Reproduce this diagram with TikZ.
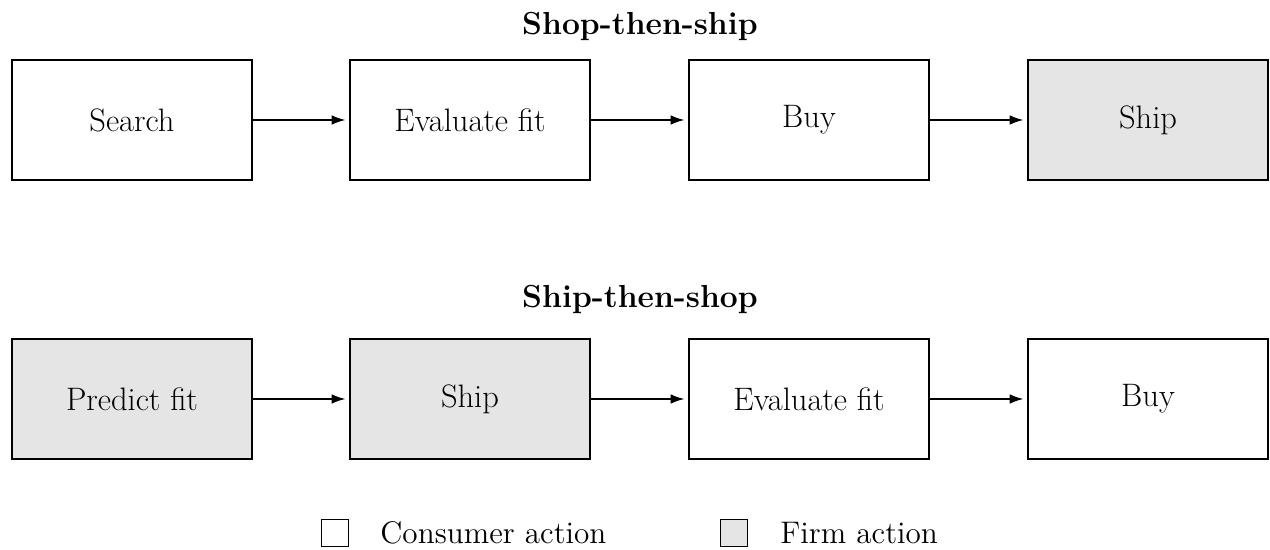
\documentclass[tikz,border=0pt]{standalone}
\usetikzlibrary{arrows.meta}
\begin{document}
\begin{tikzpicture}[x=1cm/60, y=-1cm/60,
  stepbox/.style={draw, line width=0.9pt, minimum width=4cm, minimum height=2cm, inner sep=0pt, font=\fontsize{15.4}{18}\selectfont},
  consumer/.style={stepbox, fill=white},
  firm/.style={stepbox, fill=gray!20},
  flow/.style={line width=0.7pt, -{Latex[length=2.3mm,width=1.6mm]}, shorten >=0.6mm},
  titletext/.style={font=\fontsize{15.1}{18}\selectfont\bfseries},
  legbox/.style={draw, line width=0.8pt, minimum width=0.45cm, minimum height=0.45cm, inner sep=0pt},
  legtext/.style={font=\fontsize{14.8}{18}\selectfont, anchor=west, inner sep=0pt}
]
\useasboundingbox (0,0) rectangle (1270,550);

\node[titletext] (t1) at (640,26) {Shop-then-ship};
\node[consumer] (a1) at (132,120) {Search};
\node[consumer] (a2) at (470,120) {Evaluate fit};
\node[consumer] (a3) at (809,120) {Buy};
\node[firm] (a4) at (1148,120) {Ship};
\draw[flow] (a1) -- (a2);
\draw[flow] (a2) -- (a3);
\draw[flow] (a3) -- (a4);

\node[titletext] (t2) at (640,299) {Ship-then-shop};
\node[firm] (b1) at (132,399) {Predict fit};
\node[firm] (b2) at (470,399) {Ship};
\node[consumer] (b3) at (809,399) {Evaluate fit};
\node[consumer] (b4) at (1148,399) {Buy};
\draw[flow] (b1) -- (b2);
\draw[flow] (b2) -- (b3);
\draw[flow] (b3) -- (b4);

\node[legbox, fill=white] (l1) at (335,533) {};
\node[legtext] (l1t) at (380,533) {Consumer action};
\node[legbox, fill=gray!20] (l2) at (734,533) {};
\node[legtext] (l2t) at (780,533) {Firm action};
\end{tikzpicture}
\end{document}
